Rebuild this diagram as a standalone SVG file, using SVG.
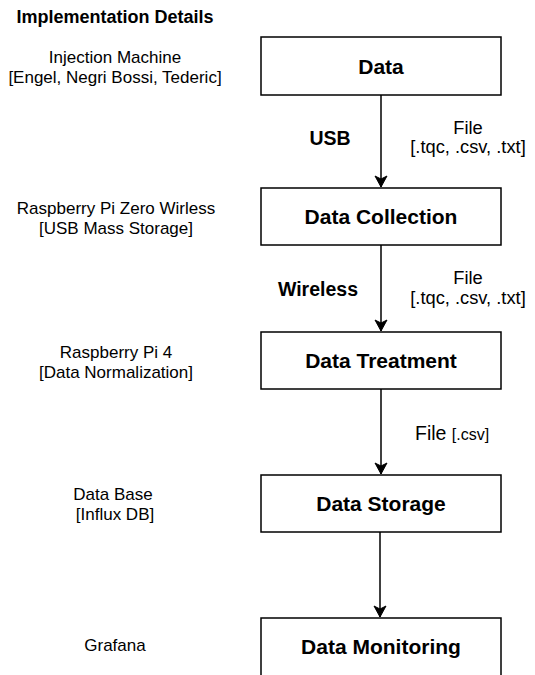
<svg xmlns="http://www.w3.org/2000/svg" width="535" height="675" viewBox="0 0 535 675">
<defs>
<style>
.box{fill:#ffffff;stroke:#000000;stroke-width:1.5}
.bt{font-family:"Liberation Sans",Arial,sans-serif;font-weight:bold;font-size:21px;text-anchor:middle;fill:#000}
.lt{font-family:"Liberation Sans",Arial,sans-serif;font-size:17px;text-anchor:middle;fill:#000}
.et{font-family:"Liberation Sans",Arial,sans-serif;font-size:18.3px;text-anchor:middle;fill:#000}
.eb{font-family:"Liberation Sans",Arial,sans-serif;font-weight:bold;font-size:19.5px;text-anchor:middle;fill:#000}
.ttl{font-family:"Liberation Sans",Arial,sans-serif;font-weight:bold;font-size:18px;text-anchor:middle;fill:#000}
.edge{stroke:#000;stroke-width:1.5;fill:none}
</style>
<marker id="arr" markerUnits="userSpaceOnUse" markerWidth="14" markerHeight="14" viewBox="0 0 14 14" refX="12" refY="7" orient="auto">
<path d="M12,7 L1,1 L4,7 L1,13 Z" fill="#000" stroke="#000" stroke-width="1"/>
</marker>
</defs>
<rect width="535" height="675" fill="#ffffff"/>
<text class="ttl" x="115" y="23">Implementation Details</text>
<g id="lbl-injection">
<text class="lt" x="115" y="63">Injection Machine</text>
<text class="lt" x="115" y="83">[Engel, Negri Bossi, Tederic]</text>
</g>
<g id="lbl-rpizero">
<text class="lt" x="116" y="214">Raspberry Pi Zero Wirless</text>
<text class="lt" x="116" y="234">[USB Mass Storage]</text>
</g>
<g id="lbl-rpi4">
<text class="lt" x="116" y="358">Raspberry Pi 4</text>
<text class="lt" x="116" y="378">[Data Normalization]</text>
</g>
<g id="lbl-db">
<text class="lt" x="113" y="500">Data Base</text>
<text class="lt" x="115" y="520">[Influx DB]</text>
</g>
<g id="lbl-grafana">
<text class="lt" x="115" y="651">Grafana</text>
</g>
<g id="n-data">
<rect class="box" x="261" y="37" width="240" height="58"/>
<text class="bt" x="381" y="74">Data</text>
</g>
<g id="n-collection">
<rect class="box" x="261" y="188" width="240" height="57"/>
<text class="bt" x="381" y="224">Data Collection</text>
</g>
<g id="n-treatment">
<rect class="box" x="261" y="332" width="240" height="57"/>
<text class="bt" x="381" y="368">Data Treatment</text>
</g>
<g id="n-storage">
<rect class="box" x="261" y="475" width="240" height="57"/>
<text class="bt" x="381" y="511">Data Storage</text>
</g>
<g id="n-monitoring">
<rect class="box" x="261" y="618" width="240" height="60"/>
<text class="bt" x="381" y="654">Data Monitoring</text>
</g>
<g id="connectors">
<line class="edge" x1="381" y1="95" x2="381" y2="187" marker-end="url(#arr)"/>
<line class="edge" x1="381" y1="245" x2="381" y2="331" marker-end="url(#arr)"/>
<line class="edge" x1="381" y1="389" x2="381" y2="474" marker-end="url(#arr)"/>
<line class="edge" x1="380" y1="532" x2="380" y2="617" marker-end="url(#arr)"/>
<text class="eb" x="330" y="145">USB</text>
<text class="et" x="468" y="134">File</text>
<text class="et" x="468" y="153">[.tqc, .csv, .txt]</text>
<text class="eb" x="318" y="296">Wireless</text>
<text class="et" x="468" y="284">File</text>
<text class="et" x="468" y="304">[.tqc, .csv, .txt]</text>
<text x="415" y="440" font-family="Liberation Sans, Arial, sans-serif" fill="#000"><tspan font-size="19.5px">File </tspan><tspan font-size="16px">[.csv]</tspan></text>
</g>
</svg>
